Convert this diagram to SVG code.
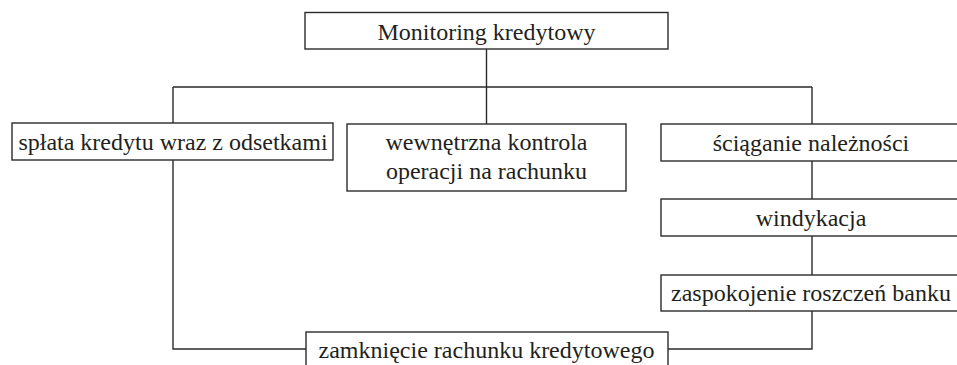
<svg xmlns="http://www.w3.org/2000/svg" width="957" height="365" viewBox="0 0 957 365">
<style>
.box{fill:#fff;stroke:#2b2b2b;stroke-width:1.4}
.lbl{font-family:"Liberation Serif","Times New Roman",serif;font-size:24px;fill:#231f20;text-anchor:middle}
.conn{fill:none;stroke:#2b2b2b;stroke-width:1.4}
</style>
<rect width="957" height="365" fill="#fff"/>
<g id="connectors">
<path class="conn" d="M486.5 49V87M173 87H812M173 87V123M486.5 87V124M812 87V124"/>
<path class="conn" d="M812 161V199M812 236V275M812 311V349H668"/>
<path class="conn" d="M173 160V349H306"/>
</g>
<g id="n-monitoring">
<rect class="box" x="305" y="12.5" width="363" height="36.5"/>
<text class="lbl" x="486.5" y="40">Monitoring kredytowy</text>
</g>
<g id="n-splata">
<rect class="box" x="12" y="123" width="321" height="37"/>
<text class="lbl" x="173" y="150">spłata kredytu wraz z odsetkami</text>
</g>
<g id="n-kontrola">
<rect class="box" x="347" y="124" width="279" height="67"/>
<text class="lbl" x="486.5" y="150">wewnętrzna kontrola</text>
<text class="lbl" x="486.5" y="179">operacji na rachunku</text>
</g>
<g id="n-sciaganie">
<rect class="box" x="661" y="124" width="310" height="37"/>
<text class="lbl" x="811" y="151">ściąganie należności</text>
</g>
<g id="n-windykacja">
<rect class="box" x="661" y="199" width="310" height="37"/>
<text class="lbl" x="811" y="226">windykacja</text>
</g>
<g id="n-zaspokojenie">
<rect class="box" x="661" y="275" width="310" height="36"/>
<text class="lbl" x="811" y="301">zaspokojenie roszczeń banku</text>
</g>
<g id="n-zamkniecie">
<rect class="box" x="306" y="332" width="362" height="40"/>
<text class="lbl" x="486.5" y="358">zamknięcie rachunku kredytowego</text>
</g>
</svg>
